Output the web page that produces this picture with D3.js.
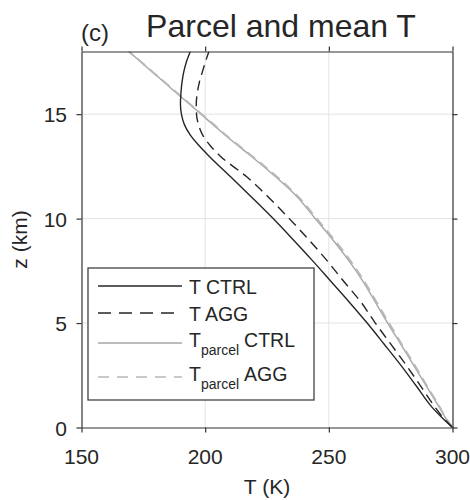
<!DOCTYPE html>
<html>
<head>
    <style>
        body { margin: 0; background: #fff; }
        svg text { font-family: "Liberation Sans", Arial, Helvetica, sans-serif; fill: #262626; }
    </style>
    <script src="https://d3js.org/d3.v7.min.js"></script>
</head>
<body>
    <svg width="470" height="500"></svg>
    <script>

        // heights (km) and temperatures (K)
        var zLevels     = [0, 0.5, 1, 2, 3, 4, 5, 6, 7, 8, 9, 10, 11, 12, 13, 13.5, 14, 14.5, 15, 15.5, 16, 16.5, 17, 17.5, 18];
        var tCtrl       = [300, 295.5, 291.5, 285.3, 279, 272.3, 265.5, 258.3, 250.8, 243.3, 235.5, 227.5, 219, 210.3, 201.5, 197.5, 194, 191.6, 190.4, 190, 190.2, 190.6, 191.3, 192.4, 194];
        var tAgg        = [300, 296, 292.8, 287, 281.2, 275, 268.8, 263, 256, 249.2, 241.8, 234, 225.8, 216.8, 206, 202, 199, 197.3, 196.5, 196.4, 196.8, 197.6, 198.8, 200.1, 201.5];
        var tParcelCtrl = [300, 297, 294.5, 289.3, 284.2, 279, 273.8, 268.8, 263.8, 258, 251.5, 244.5, 237.5, 228.5, 218.5, 213.2, 208, 203.2, 198.3, 193.5, 188.5, 183.7, 178.8, 174, 169];
        var tParcelAgg  = [300, 297.1, 294.7, 289.6, 284.6, 279.4, 274.3, 269.3, 264.3, 258.6, 252.1, 245.1, 238, 229, 218.9, 213.6, 208.3, 203.5, 198.6, 193.7, 188.8, 183.9, 179, 174.1, 169.2];

        var xTicks = [150, 200, 250, 300];
        var yTicks = [0, 5, 10, 15];

        var svg = d3.select("svg");
        var pLeft = 81.5, pRight = 452.5, pTop = 51.5, pBottom = 427.5;

        var x = d3.scaleLinear().domain([150, 300]).range([pLeft, pRight]);
        var y = d3.scaleLinear().domain([0, 18]).range([pBottom, pTop]);

        // grid
        var grid = svg.append("g");
        grid.selectAll(".gx").data(xTicks.slice(1, -1)).enter().append("line")
            .attr("x1", d => x(d)).attr("x2", d => x(d))
            .attr("y1", pTop).attr("y2", pBottom)
            .attr("stroke", "#e3e3e3").attr("stroke-width", 1);
        grid.selectAll(".gy").data(yTicks.slice(1)).enter().append("line")
            .attr("y1", d => y(d)).attr("y2", d => y(d))
            .attr("x1", pLeft).attr("x2", pRight)
            .attr("stroke", "#e3e3e3").attr("stroke-width", 1);

        svg.append("clipPath").attr("id", "clip").append("rect")
            .attr("x", pLeft).attr("y", pTop).attr("width", pRight - pLeft).attr("height", pBottom - pTop);

        var series = [
            { name: "T CTRL",        t: tCtrl,       color: "#262626", width: 1.4, dash: null },
            { name: "T AGG",         t: tAgg,        color: "#262626", width: 1.4, dash: "10,6" },
            { name: "parcel CTRL",   t: tParcelCtrl, color: "#a6a6a6", width: 1.4, dash: null },
            { name: "parcel AGG",    t: tParcelAgg,  color: "#b8b8b8", width: 2,   dash: "10,6" }
        ];

        var line = d3.line()
            .x(d => x(d[0]))
            .y(d => y(d[1]))
            .curve(d3.curveMonotoneY);

        var plot = svg.append("g").attr("clip-path", "url(#clip)");
        // parcel lines first, mean T on top
        [series[2], series[3], series[0], series[1]].forEach(function(s) {
            plot.append("path")
                .attr("d", line(s.t.map((t, i) => [t, zLevels[i]])))
                .attr("fill", "none")
                .attr("stroke", s.color)
                .attr("stroke-width", s.width)
                .attr("stroke-dasharray", s.dash);
        });

        // box axes with outward ticks
        var axisColor = "#333";
        svg.append("g").attr("transform", "translate(0," + pBottom + ")")
            .call(d3.axisBottom(x).tickValues(xTicks).tickSize(5).tickSizeOuter(0).tickFormat(""));
        svg.append("g").attr("transform", "translate(0," + pTop + ")")
            .call(d3.axisTop(x).tickValues(xTicks).tickSize(5).tickSizeOuter(0).tickFormat(""));
        svg.append("g").attr("transform", "translate(" + pLeft + ",0)")
            .call(d3.axisLeft(y).tickValues(yTicks).tickSize(5).tickSizeOuter(0).tickFormat(""));
        svg.append("g").attr("transform", "translate(" + pRight + ",0)")
            .call(d3.axisRight(y).tickValues(yTicks).tickSize(5).tickSizeOuter(0).tickFormat(""));
        svg.selectAll(".domain, .tick line").attr("stroke", axisColor).attr("stroke-width", 1.2);

        // tick labels
        svg.selectAll(".xl").data(xTicks).enter().append("text")
            .attr("x", d => x(d)).attr("y", 463.5)
            .attr("text-anchor", "middle").attr("font-size", 21)
            .text(d => d);
        svg.selectAll(".yl").data(yTicks).enter().append("text")
            .attr("x", 67).attr("y", d => y(d) + 8)
            .attr("text-anchor", "end").attr("font-size", 21)
            .text(d => d);

        // axis titles
        svg.append("text").attr("x", (pLeft + pRight) / 2).attr("y", 494)
            .attr("text-anchor", "middle").attr("font-size", 21).text("T (K)");
        svg.append("text").attr("transform", "translate(27," + ((pTop + pBottom) / 2) + ") rotate(-90)")
            .attr("text-anchor", "middle").attr("font-size", 21).text("z (km)");

        svg.append("text").attr("x", 281).attr("y", 37)
            .attr("text-anchor", "middle").attr("font-size", 32).attr("fill", "#000").text("Parcel and mean T");
        svg.append("text").attr("x", 81).attr("y", 41)
            .attr("font-size", 24).text("(c)");

        // legend
        var lg = svg.append("g");
        lg.append("rect").attr("x", 88).attr("y", 268).attr("width", 226).attr("height", 132)
            .attr("fill", "#fff").attr("stroke", axisColor).attr("stroke-width", 1.2);
        var rowY = [286, 313, 343, 377];
        var textDy = [7.5, 7.5, 3.5, 3.5];
        series.forEach(function(s, i) {
            lg.append("line").attr("x1", 98).attr("x2", 182)
                .attr("y1", rowY[i]).attr("y2", rowY[i])
                .attr("stroke", s.color).attr("stroke-width", i == 3 ? 1.6 : s.width)
                .attr("stroke-dasharray", i == 1 ? "13,8" : (i == 3 ? "11,8" : null));
            var t = lg.append("text").attr("x", 189).attr("y", rowY[i] + textDy[i]).attr("font-size", 19.5);
            if (i < 2) {
                t.text(s.name);
            } else {
                var parts = s.name.split(" ");
                t.append("tspan").text("T");
                t.append("tspan").attr("font-size", 14).attr("dy", 8).text(parts[0]);
                t.append("tspan").attr("dy", -8).attr("dx", 5).text(parts[1]);
            }
        });

    </script>
</body>
</html>
